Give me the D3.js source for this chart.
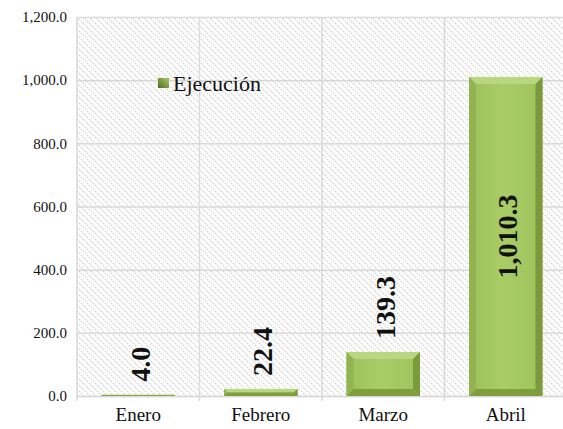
<!DOCTYPE html>
<html>
<head>
<meta charset="utf-8">
<script src="https://cdn.jsdelivr.net/npm/d3@7"></script>
<style>
  body { margin: 0; background: #fff; }
</style>
</head>
<body>
<svg id="chart" width="563" height="429"></svg>
<script>
var months = ["Enero", "Febrero", "Marzo", "Abril"];
var ejecucion = [4.0, 22.4, 139.3, 1010.3];
var valueLabels = ["4.0", "22.4", "139.3", "1,010.3"];
var yTicks = [0, 200, 400, 600, 800, 1000, 1200];
var seriesName = "Ejecución";

var FONT = "'Liberation Serif', 'Times New Roman', serif";
var margins = { top: 17, left: 77, right: -4, bottom: 33 };
var width = 563, height = 429;

var svg = d3.select("#chart");
var defs = svg.append("defs");

// hatch background
var pat = defs.append("pattern")
  .attr("id", "hatch")
  .attr("patternUnits", "userSpaceOnUse")
  .attr("width", 6).attr("height", 6);
pat.append("rect").attr("width", 6).attr("height", 6).attr("fill", "#fff");
pat.append("path")
  .attr("d", "M-1,-1 L7,7 M-1,5 L1,7 M5,-1 L7,1")
  .attr("stroke", "#d2d2d2")
  .attr("stroke-width", 1.3)
  .attr("stroke-dasharray", "1.6,1.2");

var face = defs.append("linearGradient").attr("id", "face").attr("x1", 0).attr("x2", 1).attr("y1", 0).attr("y2", 0);
face.append("stop").attr("offset", "0%").attr("stop-color", "#9cc05a");
face.append("stop").attr("offset", "45%").attr("stop-color", "#a9cc67");
face.append("stop").attr("offset", "100%").attr("stop-color", "#9fc35d");

var leg = defs.append("linearGradient").attr("id", "leg").attr("x1", 0).attr("x2", 1).attr("y1", 1).attr("y2", 0);
leg.append("stop").attr("offset", "0%").attr("stop-color", "#4f6a22");
leg.append("stop").attr("offset", "100%").attr("stop-color", "#a9cc66");

var x = d3.scaleBand()
  .domain(months)
  .range([margins.left, width - margins.right])
  .paddingInner(0).paddingOuter(0);

var y = d3.scaleLinear()
  .domain([0, 1200])
  .range([height - margins.bottom, margins.top]);

// plot background
svg.append("rect")
  .attr("x", margins.left).attr("y", margins.top)
  .attr("width", width - margins.right - margins.left)
  .attr("height", y(0) - margins.top)
  .attr("fill", "url(#hatch)");

// horizontal grid + y labels
var yAxis = d3.axisLeft(y).tickValues(yTicks)
  .tickSize(-(width - margins.right - margins.left))
  .tickFormat(d3.format(",.1f"));
var gy = svg.append("g")
  .attr("transform", "translate(" + margins.left + ",0)")
  .call(yAxis)
  .attr("font-family", FONT)
  .attr("font-size", 15);
gy.select(".domain").remove();
gy.selectAll(".tick line").attr("stroke", "#d9d9d9").attr("stroke-width", 1.5);
gy.selectAll(".tick text")
  .attr("x", -10)
  .attr("fill", "#111")
  .attr("font-family", FONT);

// vertical grid at category boundaries
var bounds = months.map(function(m){ return x(m); }).concat([x(months[3]) + x.bandwidth()]);
svg.append("g").selectAll("line").data(bounds).enter().append("line")
  .attr("x1", function(d){ return d; }).attr("x2", function(d){ return d; })
  .attr("y1", margins.top).attr("y2", y(0) + 5)
  .attr("stroke", "#d9d9d9").attr("stroke-width", 1.5);

// x labels
var xAxis = d3.axisBottom(x).tickSize(0);
var gx = svg.append("g")
  .attr("transform", "translate(0," + y(0) + ")")
  .call(xAxis)
  .attr("font-family", FONT)
  .attr("font-size", 19);
gx.select(".domain").attr("stroke", "#d9d9d9").attr("stroke-width", 1.5);
gx.selectAll(".tick text")
  .attr("y", 12)
  .attr("fill", "#111")
  .attr("font-family", FONT);

// bars with bevel
var barW = x.bandwidth() * 0.6;
var bars = svg.append("g").selectAll("g").data(ejecucion).enter().append("g");
bars.each(function(v, i){
  var g = d3.select(this);
  var x0 = x(months[i]) + (x.bandwidth() - barW) / 2;
  var y0 = y(v), h = y(0) - y(v), w = barW;
  var b = Math.min(7, h / 2);
  g.append("rect").attr("x", x0).attr("y", y0).attr("width", w).attr("height", h)
    .attr("fill", "url(#face)");
  // top bevel
  g.append("path")
    .attr("d", "M" + x0 + "," + y0 + "L" + (x0 + w) + "," + y0 + "L" + (x0 + w - b) + "," + (y0 + b) + "L" + (x0 + b) + "," + (y0 + b) + "Z")
    .attr("fill", "#b9d681");
  // bottom bevel
  g.append("path")
    .attr("d", "M" + x0 + "," + (y0 + h) + "L" + (x0 + w) + "," + (y0 + h) + "L" + (x0 + w - b) + "," + (y0 + h - b) + "L" + (x0 + b) + "," + (y0 + h - b) + "Z")
    .attr("fill", "#7f9f3e");
  // left bevel
  g.append("path")
    .attr("d", "M" + x0 + "," + y0 + "L" + (x0 + b) + "," + (y0 + b) + "L" + (x0 + b) + "," + (y0 + h - b) + "L" + x0 + "," + (y0 + h) + "Z")
    .attr("fill", "#91b450");
  // right bevel
  g.append("path")
    .attr("d", "M" + (x0 + w) + "," + y0 + "L" + (x0 + w - b) + "," + (y0 + b) + "L" + (x0 + w - b) + "," + (y0 + h - b) + "L" + (x0 + w) + "," + (y0 + h) + "Z")
    .attr("fill", "#7a9a3b");
});

// value labels, rotated
svg.append("g").selectAll("text").data(ejecucion).enter().append("text")
  .attr("transform", function(v, i){
    var cx = x(months[i]) + x.bandwidth() / 2 + 2;
    var cy = v > 600 ? (y(v) + y(0)) / 2 : y(v) - 13;
    return "translate(" + cx + "," + cy + ") rotate(-90)";
  })
  .attr("text-anchor", function(v){ return v > 600 ? "middle" : "start"; })
  .attr("dominant-baseline", "central")
  .attr("fill", "#111")
  .attr("font-family", FONT)
  .attr("font-size", 28)
  .attr("font-weight", "bold")
  .text(function(v, i){ return valueLabels[i]; });

// legend
var lg = svg.append("g").attr("transform", "translate(158,78)");
lg.append("rect").attr("width", 11).attr("height", 10).attr("fill", "url(#leg)");
lg.append("text").attr("x", 15).attr("y", 5).attr("dominant-baseline", "central")
  .attr("fill", "#111").attr("font-family", FONT).attr("font-size", 22).text(seriesName);
</script>
</body>
</html>
